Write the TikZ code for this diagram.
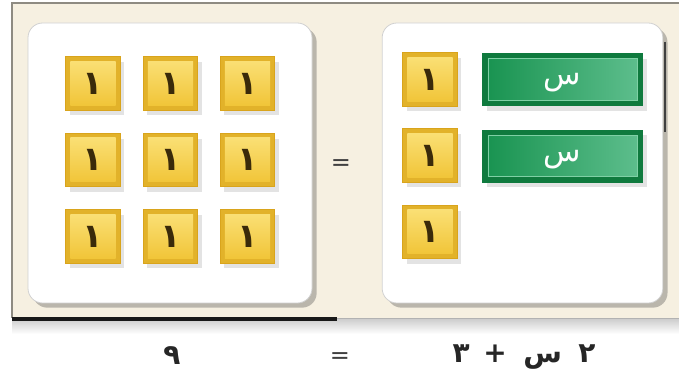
\documentclass[tikz,border=0pt]{standalone}
\usepackage{fontspec}
\setmainfont{DejaVu Sans}
\newfontfamily\arabicfont[Script=Arabic]{DejaVu Sans}
\TeXXeTstate=1
\usetikzlibrary{shadows}
\definecolor{cream}{HTML}{F6F0E1}
\definecolor{framegray}{HTML}{8E8B82}
\definecolor{goldedge}{HTML}{D9A41C}
\definecolor{goldtop}{HTML}{FBE27A}
\definecolor{goldbot}{HTML}{F0C232}
\definecolor{goldout}{HTML}{E2B22A}
\definecolor{greenedge}{HTML}{0F7A3E}
\definecolor{greenleft}{HTML}{17924F}
\definecolor{greenright}{HTML}{5FBF8E}
\definecolor{greenline}{HTML}{7FD0A5}
\definecolor{digit}{HTML}{3A2A0A}
\begin{document}
\begin{tikzpicture}[x=0.75pt,y=-0.75pt,
  panel/.style={draw=black!18, line width=0.6pt, fill=white, rounded corners=11pt,
    minimum height=210pt, inner sep=0pt,
    drop shadow={shadow xshift=3.5pt, shadow yshift=-3.5pt, opacity=0.35, fill=black!70}},
  tile/.style={draw=goldedge, line width=0.7pt, fill=goldout,
    minimum width=41pt, minimum height=40pt, inner sep=0pt,
    font=\arabicfont\bfseries\fontsize{25}{25}\selectfont, text=digit,
    drop shadow={shadow xshift=3pt, shadow yshift=-4pt, opacity=0.18, fill=black!60},
    path picture={\shade[top color=goldtop, bottom color=goldbot]
      ([shift={(3.5pt,-3.5pt)}]path picture bounding box.north west) rectangle
      ([shift={(-3.5pt,3.5pt)}]path picture bounding box.south east);}},
  xbar/.style={draw=greenedge, line width=0.7pt, fill=greenedge,
    minimum width=120pt, minimum height=39pt, inner sep=0pt,
    text height=12pt, text depth=4pt,
    font=\arabicfont\fontsize{23}{23}\selectfont, text=white,
    drop shadow={shadow xshift=3pt, shadow yshift=-4pt, opacity=0.18, fill=black!60},
    path picture={\shade[left color=greenleft, right color=greenright, draw=greenline, line width=0.5pt]
      ([shift={(4pt,-4pt)}]path picture bounding box.north west) rectangle
      ([shift={(-4pt,4pt)}]path picture bounding box.south east);}},
  eqsign/.style={font=\fontsize{18}{18}\selectfont, text=black!75},
  bottomtxt/.style={font=\arabicfont\bfseries\fontsize{21}{21}\selectfont, text=black!85}]
\useasboundingbox (0,0) rectangle (679,391);
\fill[white] (0,0) rectangle (679,391);
% frame
\fill[cream] (12,3) rectangle (679,318);
\shade[top color=black!18, bottom color=white] (12,320) rectangle (679,334);
\draw[framegray, line width=1.2pt] (12,318) -- (12,3) -- (679,3);
\draw[black!30, line width=1.2pt] (337,318.5) -- (679,318.5);
\draw[black!90, line width=2.4pt] (12,319) -- (337,319);
% panels
\node[panel, minimum width=213pt] (lp) at (170,163) {};
\node[panel, minimum width=210.5pt] (rp) at (522.5,163) {};
\draw[black!75, line width=1.5pt] (665,42) -- (665,132);
% left tiles
\node[tile] (a1) at (93,83.5) {١};
\node[tile] (a2) at (170.5,83.5) {١};
\node[tile] (a3) at (247.5,83.5) {١};
\node[tile] (b1) at (93,160) {١};
\node[tile] (b2) at (170.5,160) {١};
\node[tile] (b3) at (247.5,160) {١};
\node[tile] (c1) at (93,236.5) {١};
\node[tile] (c2) at (170.5,236.5) {١};
\node[tile] (c3) at (247.5,236.5) {١};
% right tiles
\node[tile] (r1) at (430,79.5) {١};
\node[tile] (r2) at (430,155.5) {١};
\node[tile] (r3) at (430,232) {١};
\node[xbar] (x1) at (562.5,79.5) {س};
\node[xbar] (x2) at (562.5,156) {س};
% equals
\node[eqsign] (eq) at (341,165) {=};
% bottom equation
\node[bottomtxt] (nine) at (172,356) {٩};
\node[eqsign] (eq2) at (340,358) {=};
\node[bottomtxt] (lhs) at (524,357) {\beginR ٢\hspace{5pt} س\hspace{5pt} +\hspace{3pt} ٣\endR};
\end{tikzpicture}
\end{document}
